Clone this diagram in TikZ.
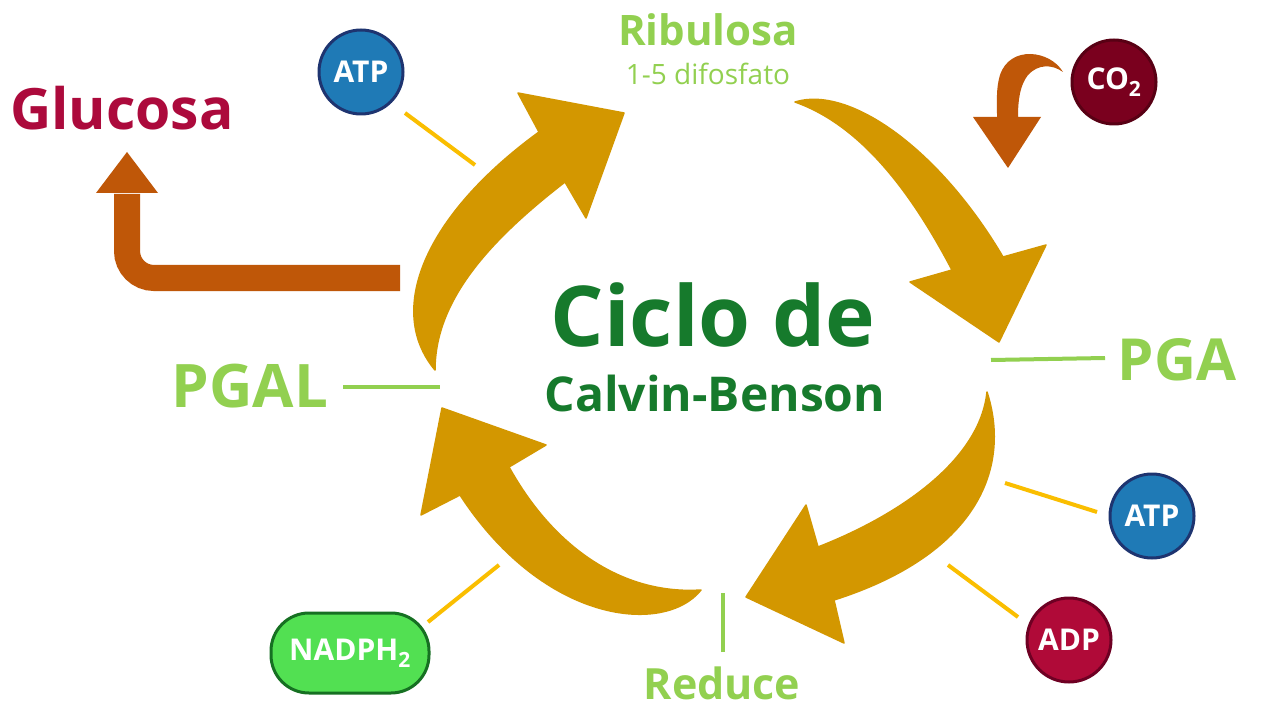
\documentclass[tikz,border=0pt]{standalone}
\usepackage{fontspec}
\setmainfont{Open Sans}
\definecolor{gold}{RGB}{211,151,0}
\definecolor{rust}{RGB}{191,87,8}
\definecolor{crim}{RGB}{172,10,60}
\definecolor{lgreen}{RGB}{146,208,80}
\definecolor{dgreen}{RGB}{22,122,44}
\definecolor{atpfill}{RGB}{31,122,182}
\definecolor{atpedge}{RGB}{30,52,112}
\definecolor{adpfill}{RGB}{176,10,56}
\definecolor{adpedge}{RGB}{110,0,35}
\definecolor{cofill}{RGB}{122,0,30}
\definecolor{coedge}{RGB}{88,0,20}
\definecolor{nadfill}{RGB}{82,224,82}
\definecolor{nadedge}{RGB}{22,112,34}
\definecolor{yline}{RGB}{250,190,0}
\tikzset{
  bigarrow/.style={fill=gold,draw=gold,line width=1.5pt,line join=round},
  circ/.style={circle,minimum size=84pt,inner sep=0pt,line width=3pt,text=white,font=\bfseries\fontsize{30}{30}\selectfont},
  yconn/.style={draw=yline,line width=4pt},
  gconn/.style={draw=lgreen,line width=4pt},
  lbl/.style={inner sep=0pt,font=\bfseries}
}
\begin{document}
\begin{tikzpicture}[x=1pt,y=-1pt]
\useasboundingbox[fill=white] (0,0) rectangle (1271,727);

% ---- big cycle arrows ----
% PGAL -> Ribulosa
\filldraw[bigarrow] (435,370) .. controls (385,310) and (425,215) .. (539,132)
  -- (518,93) -- (624,113) -- (586,218) -- (565,182)
  .. controls (490,240) and (435,300) .. (435,370) -- cycle;
% Ribulosa -> PGA
\filldraw[bigarrow] (795,102) .. controls (850,85) and (940,150) .. (1003,257)
  -- (1046,245) -- (999,342) -- (910,282) -- (952,270)
  .. controls (910,190) and (860,125) .. (795,102) -- cycle;
% PGA -> Reduce
\filldraw[bigarrow] (987,392) .. controls (1012,470) and (975,555) .. (834,600)
  -- (844,643) -- (746,597) -- (806,505) -- (818,547)
  .. controls (900,515) and (980,460) .. (987,392) -- cycle;
% Reduce -> PGAL
\filldraw[bigarrow] (701,590) .. controls (665,635) and (545,625) .. (460,495)
  -- (421,515) -- (442,408) -- (546,445) -- (509,467)
  .. controls (555,550) and (625,595) .. (701,590) -- cycle;

% ---- Glucosa arrow ----
\coordinate (gstart) at (400,278);
\coordinate (gcorner) at (127,278);
\coordinate (gend) at (127,194);
\draw[rust,line width=26pt,rounded corners=27pt] (gstart) -- (gcorner) -- (gend);
\fill[rust] (96,193) -- (158,193) -- (127,152) -- cycle;
\node[lbl,text=crim,font=\bfseries\fontsize{57}{57}\selectfont] (gluc) at (122,108) {Glucosa};

% ---- CO2 arrow ----
\fill[rust] (1063,72) .. controls (1050,50) and (1010,45) .. (1000,75) .. controls (996,88) and (997,100) .. (997,117)
  -- (973,117) -- (1008,168) -- (1041,117) -- (1018,117)
  .. controls (1018,100) and (1020,85) .. (1028,75) .. controls (1038,64) and (1052,64) .. (1063,72) -- cycle;
\node[circ,fill=cofill,draw=coedge] (co2) at (1114,82) {CO\textsubscript{2}};

% ---- texts ----
\node[lbl,text=lgreen,font=\bfseries\fontsize{42}{42}\selectfont] (ribu) at (708,30) {Ribulosa};
\node[lbl,text=lgreen,font=\fontsize{28}{28}\selectfont] (difo) at (708,74) {1-5 difosfato};
\node[lbl,text=dgreen,font=\bfseries\fontsize{84}{84}\selectfont] (ciclo) at (713,315) {Ciclo de};
\node[lbl,text=dgreen,font=\bfseries\fontsize{48}{48}\selectfont] (calvin) at (715,393) {Calvin-Benson};
\node[lbl,text=lgreen,font=\bfseries\fontsize{60}{60}\selectfont] (pgal) at (250,386) {PGAL};
\node[lbl,text=lgreen,font=\bfseries\fontsize{58}{58}\selectfont] (pga) at (1177,360) {PGA};
\node[lbl,text=lgreen,font=\bfseries\fontsize{43}{43}\selectfont] (reduce) at (722,683) {Reduce};

% ---- circles ----
\node[circ,fill=atpfill,draw=atpedge] (atpa) at (361,72) {ATP};
\node[circ,fill=atpfill,draw=atpedge] (atpb) at (1152,516) {ATP};
\node[circ,fill=adpfill,draw=adpedge] (adp) at (1069,640) {ADP};
\node[rounded corners=38pt,minimum width=158pt,minimum height=80pt,inner sep=0pt,
  fill=nadfill,draw=nadedge,line width=3pt,text=white,font=\bfseries\fontsize{30}{30}\selectfont] (nadph) at (350,653) {NADPH\textsubscript{2}};

% ---- connector lines ----
\coordinate (a1s) at (405,113); \coordinate (a1e) at (475,165);
\coordinate (a2s) at (1097,512); \coordinate (a2e) at (1005,483);
\coordinate (ads) at (1018,617); \coordinate (ade) at (948,565);
\coordinate (nas) at (428,622); \coordinate (nae) at (499,565);
\coordinate (pls) at (343,387); \coordinate (ple) at (440,387);
\coordinate (pas) at (1105,358); \coordinate (pae) at (991,360);
\coordinate (rds) at (723,652); \coordinate (rde) at (723,593);
\draw[yconn] (a1s) -- (a1e);
\draw[yconn] (a2s) -- (a2e);
\draw[yconn] (ads) -- (ade);
\draw[yconn] (nas) -- (nae);
\draw[gconn] (pls) -- (ple);
\draw[gconn] (pas) -- (pae);
\draw[gconn] (rds) -- (rde);
\end{tikzpicture}
\end{document}
